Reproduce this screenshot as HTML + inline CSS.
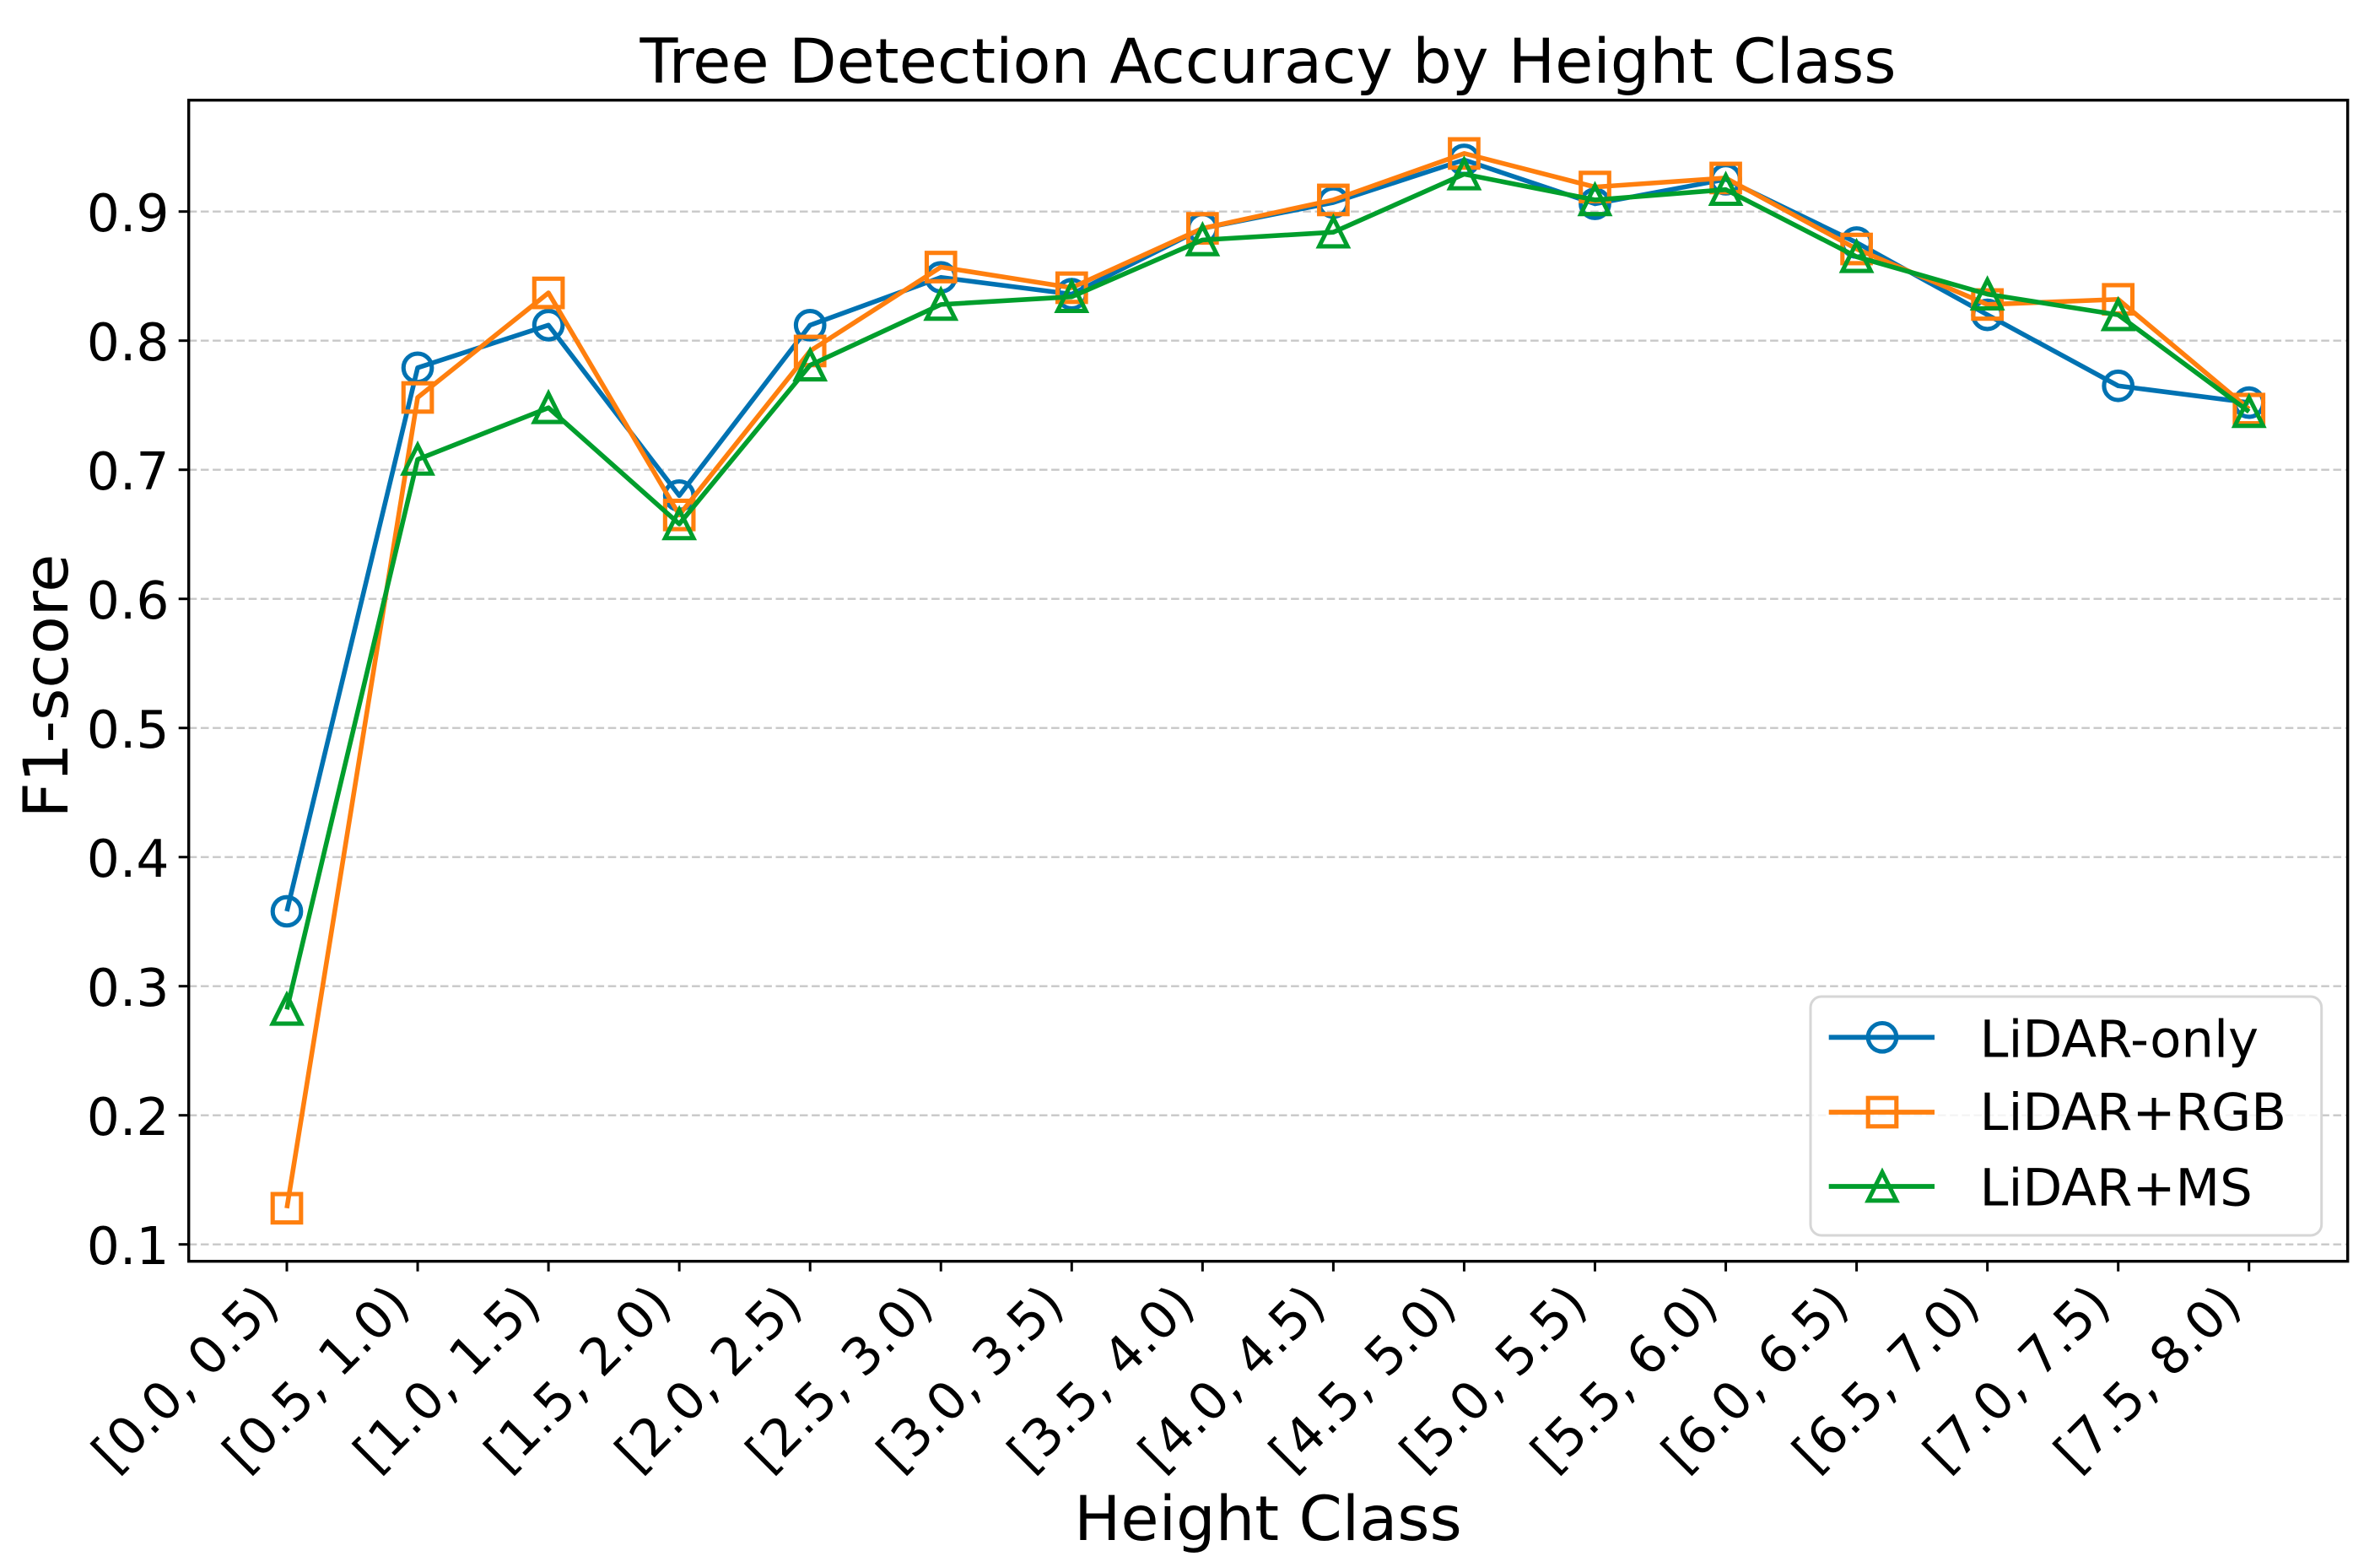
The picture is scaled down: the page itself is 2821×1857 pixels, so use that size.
<!DOCTYPE html>
<html lang="en">
<head>
<meta charset="utf-8">
<title>Tree Detection Accuracy by Height Class</title>
<style>
  html, body { margin: 0; padding: 0; background: #fff; }
  svg { display: block; }
  text { font-family: "DejaVu Sans", "Liberation Sans", sans-serif; fill: #000; }
</style>
</head>
<body>
<svg id="chart" xmlns="http://www.w3.org/2000/svg" width="2821" height="1857" viewBox="0 0 2821 1857">
  <rect x="0" y="0" width="2821" height="1857" fill="#fff"/>
  <g id="grid"></g>
  <g id="series"></g>
  <rect x="223.7" y="118.7" width="2559" height="1376" fill="none" stroke="#000" stroke-width="3.4"/>
  <g id="xticks"></g>
  <g id="yticks"></g>
  <text x="1503" y="98" font-size="73.5" text-anchor="middle">Tree Detection Accuracy by Height Class</text>
  <text x="1503" y="1825" font-size="73.5" text-anchor="middle">Height Class</text>
  <text transform="translate(80 813) rotate(-90)" font-size="73.5" text-anchor="middle">F1-score</text>
  <g>
    <rect x="2146" y="1181" width="605.7" height="283" rx="13" ry="13" fill="#fff" fill-opacity="0.8" stroke="#d6d6d6" stroke-width="3"/>
    <g id="legend-items"></g>
  </g>
</svg>
<script>
const categories = ["[0.0, 0.5)", "[0.5, 1.0)", "[1.0, 1.5)", "[1.5, 2.0)", "[2.0, 2.5)", "[2.5, 3.0)", "[3.0, 3.5)", "[3.5, 4.0)", "[4.0, 4.5)", "[4.5, 5.0)", "[5.0, 5.5)", "[5.5, 6.0)", "[6.0, 6.5)", "[6.5, 7.0)", "[7.0, 7.5)", "[7.5, 8.0)"];
const yTickValues = [0.1, 0.2, 0.3, 0.4, 0.5, 0.6, 0.7, 0.8, 0.9];
const yTickLabels = ["0.1", "0.2", "0.3", "0.4", "0.5", "0.6", "0.7", "0.8", "0.9"];
const seriesNames = ["LiDAR-only", "LiDAR+RGB", "LiDAR+MS"];
const lidarOnly = [0.358, 0.779, 0.812, 0.680, 0.812, 0.849, 0.836, 0.887, 0.907, 0.940, 0.906, 0.925, 0.876, 0.820, 0.765, 0.752];
const lidarRgb = [0.128, 0.756, 0.837, 0.665, 0.792, 0.857, 0.841, 0.887, 0.909, 0.945, 0.919, 0.926, 0.871, 0.828, 0.832, 0.747];
const lidarMs = [0.282, 0.708, 0.748, 0.658, 0.781, 0.828, 0.834, 0.878, 0.884, 0.929, 0.909, 0.917, 0.865, 0.836, 0.820, 0.745];

const NS = "http://www.w3.org/2000/svg";
const allSeries = [lidarOnly, lidarRgb, lidarMs];
const seriesColors = ["#0072B2", "#FF7F0E", "#009E2C"];
const seriesMarkers = ["circle", "square", "triangle"];
const seriesSlugs = ["lidar-only", "lidar-rgb", "lidar-ms"];

function xScale(i) { return 340 + i * 155.05; }
function yScale(v) { return 1474.7 - (v - 0.1) * 1530; }

function make(tag, attrs, parent) {
  const el = document.createElementNS(NS, tag);
  for (const k in attrs) el.setAttribute(k, attrs[k]);
  parent.appendChild(el);
  return el;
}

function drawMarker(kind, cx, cy, color, parent, name) {
  const r = 16.8;
  let m;
  const style = { fill: "none", stroke: color, "stroke-width": 5.1 };
  if (kind === "circle") {
    m = make("circle", Object.assign({ cx: cx, cy: cy, r: r }, style), parent);
  } else if (kind === "square") {
    m = make("rect", Object.assign({ x: cx - r, y: cy - r, width: 2 * r, height: 2 * r }, style), parent);
  } else {
    const pts = (cx) + "," + (cy - r) + " " + (cx - r) + "," + (cy + r) + " " + (cx + r) + "," + (cy + r);
    m = make("polygon", Object.assign({ points: pts, "stroke-miterlimit": 10 }, style), parent);
  }
  
  
  return m;
}

const gridGroup = document.getElementById("grid");
const yTickGroup = document.getElementById("yticks");
yTickValues.forEach(function (v, i) {
  const y = yScale(v);
  const g = make("line", { x1: 223.7, x2: 2782.7, y1: y, y2: y, stroke: "#c8c8c8", "stroke-width": 2.4, "stroke-dasharray": "9.6 4.6" }, gridGroup);
  
  
  const t = make("line", { x1: 211.7, x2: 223.7, y1: y, y2: y, stroke: "#000", "stroke-width": 3 }, yTickGroup);
  
  
  const l = make("text", { x: 200.5, y: y + 23.4, "font-size": 61.5, "text-anchor": "end" }, yTickGroup);
  l.textContent = yTickLabels[i];
  
  
});

const xTickGroup = document.getElementById("xticks");
categories.forEach(function (c, i) {
  const x = xScale(i);
  const t = make("line", { x1: x, x2: x, y1: 1494.7, y2: 1506.7, stroke: "#000", "stroke-width": 3 }, xTickGroup);
  
  
  const ax = x - 6.3, ay = 1549;
  const l = make("text", { x: ax, y: ay, "font-size": 61, "text-anchor": "end", transform: "rotate(-45 " + ax + " " + ay + ")" }, xTickGroup);
  l.textContent = c;
  
  
});

const seriesGroup = document.getElementById("series");
allSeries.forEach(function (values, s) {
  const g = make("g", {}, seriesGroup);
  
  
  const pts = values.map(function (v, i) { return xScale(i).toFixed(2) + "," + yScale(v).toFixed(2); }).join(" ");
  const line = make("polyline", { points: pts, fill: "none", stroke: seriesColors[s], "stroke-width": 5.6, "stroke-linejoin": "round" }, g);
  
  
  values.forEach(function (v, i) {
    drawMarker(seriesMarkers[s], xScale(i), yScale(v), seriesColors[s], g, seriesSlugs[s] + '-point');
  });
});

const legendGroup = document.getElementById("legend-items");
const legendRowY = [1229.3, 1318, 1406];
const legendBaselineY = [1252.7, 1338.9, 1428.5];
seriesNames.forEach(function (name, s) {
  const y = legendRowY[s];
  const g = make("g", {}, legendGroup);
  
  
  const h = make("line", { x1: 2167.7, x2: 2293, y1: y, y2: y, stroke: seriesColors[s], "stroke-width": 5.8 }, g);
  
  
  drawMarker(seriesMarkers[s], 2231, y, seriesColors[s], g, 'legend-marker');
  const t = make("text", { x: 2346.5, y: legendBaselineY[s], "font-size": 61 }, g);
  t.textContent = name;
  
  
});
</script>
</body>
</html>
